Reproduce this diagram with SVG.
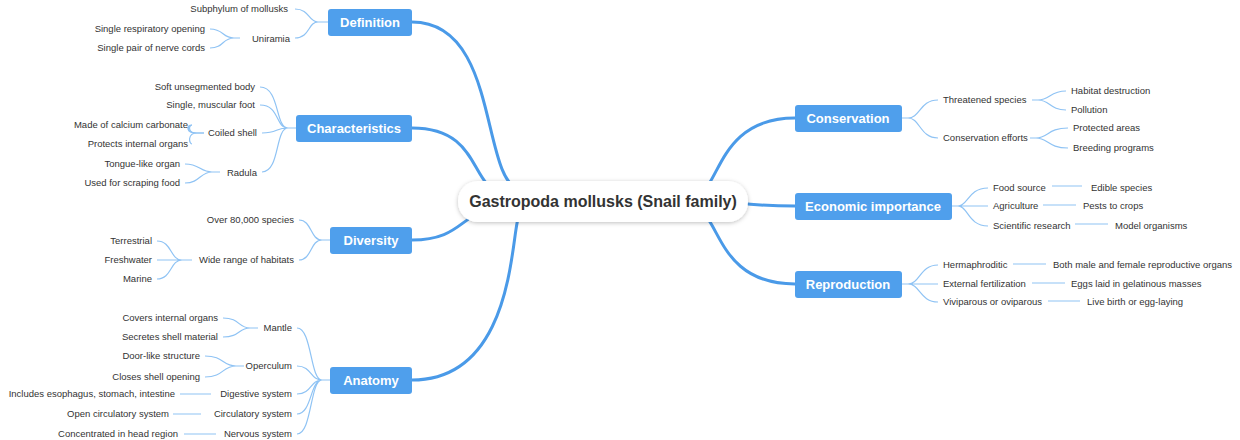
<svg xmlns="http://www.w3.org/2000/svg" width="1240" height="440" viewBox="0 0 1240 440">
<style>
.bg{fill:#fff}
.box{fill:#4f9fec;rx:3}
.bt{font-family:"Liberation Sans",Arial,sans-serif;font-size:13px;font-weight:bold;fill:#fff;text-anchor:middle}
.lt{font-family:"Liberation Sans",Arial,sans-serif;font-size:9.5px;fill:#333}
.r{text-anchor:end}
.main{fill:none;stroke:#4a9ae8;stroke-width:3;stroke-linecap:round}
.sub{fill:none;stroke:#8fc3f4;stroke-width:1.2}
.ct{font-family:"Liberation Sans",Arial,sans-serif;font-size:16px;font-weight:bold;fill:#333;text-anchor:middle}
</style>
<defs><filter id="sh" x="-10%" y="-30%" width="120%" height="160%"><feDropShadow dx="0" dy="1" stdDeviation="2" flood-color="#000" flood-opacity="0.25"/></filter></defs>
<rect class="bg" width="1240" height="440"/>
<g id="connectors">
<path class="main" d="M412,22 C500,22 480,180 520,190"/>
<path class="main" d="M412,128 C480,128 470,185 500,192"/>
<path class="main" d="M412,240 C460,240 460,215 490,210"/>
<path class="main" d="M412,380 C520,380 510,220 520,215"/>
<path class="main" d="M795,118 C720,118 720,185 700,192"/>
<path class="main" d="M795,206 C770,206 760,205 748,204"/>
<path class="main" d="M795,284 C720,284 720,220 700,212"/>
<path class="sub" d="M328,22 H318 M318,22 C308,22 310,9 295,9 M318,22 C308,22 310,38 295,38"/>
<path class="sub" d="M240,38 H234 C222,38 224,29 210,29 M234,38 C222,38 224,48 210,48"/>
<path class="sub" d="M296,128 H288 M288,128 C275,128 280,87 260,87 M288,128 C275,128 280,105 260,105 M288,128 C275,128 278,133 262,133 M288,128 C275,128 280,172 262,172"/>
<path class="sub" d="M204,133 H196 C186,133 188,125 192,125 M196,133 C186,133 186,125 192,125"/>
<path class="sub" d="M204,133 H197 C187,133 189,125 192,125 M197,133 C187,133 189,144 192,144"/>
<path class="sub" d="M220,172 H212 C200,172 200,164 185,164 M212,172 C200,172 200,183 185,183"/>
<path class="sub" d="M330,240 H322 C310,240 312,220 299,220 M322,240 C310,240 312,260 299,260"/>
<path class="sub" d="M192,260 H182 C170,260 172,241 157,241 M182,260 H157 M182,260 C170,260 172,279 157,279"/>
<path class="sub" d="M330,380 H322 C310,380 312,328 297,328 M322,380 C310,380 312,366 297,366 M322,380 C310,380 312,394 297,394 M322,380 C310,380 312,414 297,414 M322,380 C310,380 312,434 297,434"/>
<path class="sub" d="M258,328 H250 C238,328 240,318 223,318 M250,328 C238,328 240,337 223,337"/>
<path class="sub" d="M244,366 H236 C222,366 224,356 205,356 M236,366 C222,366 224,377 205,377"/>
<path class="sub" d="M211,394 H180 M201,414 H173 M216,434 H184"/>
<path class="sub" d="M902,118 H908 C920,118 920,100 938,100 M908,118 C920,118 920,138 938,138"/>
<path class="sub" d="M1032,100 H1038 C1050,100 1050,91 1066,91 M1038,100 C1050,100 1050,110 1066,110"/>
<path class="sub" d="M1030,138 H1036 C1048,138 1048,128 1068,128 M1036,138 C1048,138 1048,148 1068,148"/>
<path class="sub" d="M952,206 H958 C968,206 968,188 988,188 M958,206 H988 M958,206 C968,206 968,226 988,226"/>
<path class="sub" d="M1052,186 H1082 M1043,205 H1076 M1075,224 H1108"/>
<path class="sub" d="M902,284 H908 C920,284 920,265 938,265 M908,284 H938 M908,284 C920,284 920,302 938,302"/>
<path class="sub" d="M1013,264 H1046 M1032,283 H1065 M1048,301 H1080"/>
</g>
<g id="center"><rect x="458" y="181" width="290" height="41" rx="20" fill="#fff" filter="url(#sh)"/><text class="ct" x="603" y="207">Gastropoda mollusks (Snail family)</text></g>
<g id="definition"><rect class="box" x="328" y="9" width="84" height="27" rx="3"/><text class="bt" x="370" y="27">Definition</text>
<text class="lt r" x="288" y="12">Subphylum of mollusks</text><text class="lt r" x="290" y="42">Uniramia</text>
<text class="lt r" x="205" y="32">Single respiratory opening</text><text class="lt r" x="205" y="51">Single pair of nerve cords</text></g>
<g id="characteristics"><rect class="box" x="296" y="115" width="116" height="27" rx="3"/><text class="bt" x="354" y="133">Characteristics</text>
<text class="lt r" x="255" y="90">Soft unsegmented body</text><text class="lt r" x="255" y="108">Single, muscular foot</text>
<text class="lt r" x="257" y="136">Coiled shell</text><text class="lt r" x="257" y="176">Radula</text>
<text class="lt r" x="188" y="128">Made of calcium carbonate</text><text class="lt r" x="188" y="147">Protects internal organs</text>
<text class="lt r" x="180" y="167">Tongue-like organ</text><text class="lt r" x="180" y="186">Used for scraping food</text></g>
<g id="diversity"><rect class="box" x="330" y="227" width="82" height="27" rx="3"/><text class="bt" x="371" y="245">Diversity</text>
<text class="lt r" x="294" y="223">Over 80,000 species</text><text class="lt r" x="294" y="263">Wide range of habitats</text>
<text class="lt r" x="152" y="244">Terrestrial</text><text class="lt r" x="152" y="263">Freshwater</text><text class="lt r" x="152" y="282">Marine</text></g>
<g id="anatomy"><rect class="box" x="330" y="367" width="82" height="27" rx="3"/><text class="bt" x="371" y="385">Anatomy</text>
<text class="lt r" x="292" y="331">Mantle</text><text class="lt r" x="292" y="369">Operculum</text><text class="lt r" x="292" y="397">Digestive system</text><text class="lt r" x="292" y="417">Circulatory system</text><text class="lt r" x="292" y="437">Nervous system</text>
<text class="lt r" x="218" y="321">Covers internal organs</text><text class="lt r" x="218" y="340">Secretes shell material</text>
<text class="lt r" x="200" y="359">Door-like structure</text><text class="lt r" x="200" y="380">Closes shell opening</text>
<text class="lt r" x="175" y="397">Includes esophagus, stomach, intestine</text><text class="lt r" x="169" y="417">Open circulatory system</text><text class="lt r" x="178" y="437">Concentrated in head region</text></g>
<g id="conservation"><rect class="box" x="795" y="105" width="107" height="27" rx="3"/><text class="bt" x="848" y="123">Conservation</text>
<text class="lt" x="943" y="103">Threatened species</text><text class="lt" x="943" y="141">Conservation efforts</text>
<text class="lt" x="1071" y="94">Habitat destruction</text><text class="lt" x="1071" y="113">Pollution</text>
<text class="lt" x="1073" y="131">Protected areas</text><text class="lt" x="1073" y="151">Breeding programs</text></g>
<g id="economic"><rect class="box" x="795" y="193" width="157" height="27" rx="3"/><text class="bt" x="873" y="211">Economic importance</text>
<text class="lt" x="993" y="191">Food source</text><text class="lt" x="993" y="209">Agriculture</text><text class="lt" x="993" y="229">Scientific research</text>
<text class="lt" x="1091" y="191">Edible species</text><text class="lt" x="1083" y="209">Pests to crops</text><text class="lt" x="1115" y="229">Model organisms</text></g>
<g id="reproduction"><rect class="box" x="795" y="271" width="107" height="27" rx="3"/><text class="bt" x="848" y="289">Reproduction</text>
<text class="lt" x="943" y="268">Hermaphroditic</text><text class="lt" x="943" y="287">External fertilization</text><text class="lt" x="943" y="305">Viviparous or oviparous</text>
<text class="lt" x="1053" y="268">Both male and female reproductive organs</text><text class="lt" x="1071" y="287">Eggs laid in gelatinous masses</text><text class="lt" x="1087" y="305">Live birth or egg-laying</text></g>
</svg>
